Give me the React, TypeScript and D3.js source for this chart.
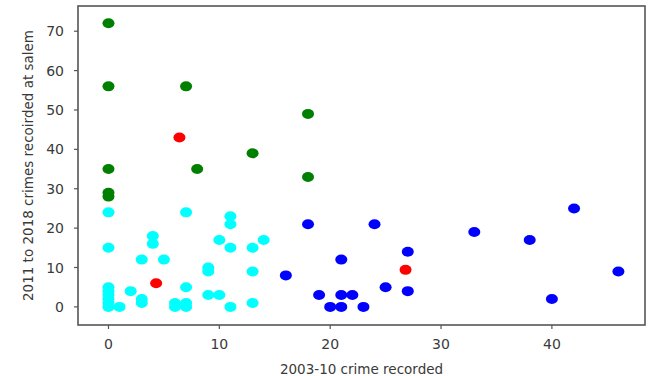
import * as d3 from 'd3';

// cluster 0 (green): high 2011-18 counts
const greenX = [0, 0, 7, 18, 13, 0, 8, 18, 0, 0];
const greenY = [72, 56, 56, 49, 39, 35, 35, 33, 29, 28];

// cluster 1 (cyan): low counts both periods
const cyanX = [0, 7, 0, 4, 4, 3, 5, 0, 0, 0, 0, 0, 0, 2, 3, 3, 1, 6, 6, 7, 7, 7, 11, 11, 10, 14, 11, 13, 9, 9, 13, 9, 10, 11, 13];
const cyanY = [24, 24, 15, 18, 16, 12, 12, 5, 4, 3, 2, 1, 0, 4, 2, 1, 0, 1, 0, 1, 0, 5, 23, 21, 17, 17, 15, 15, 10, 9, 9, 3, 3, 0, 1];

// cluster 2 (blue): high 2003-10 counts
const blueX = [18, 24, 27, 21, 16, 25, 27, 19, 21, 22, 20, 21, 23, 33, 38, 42, 46, 40];
const blueY = [21, 21, 14, 12, 8, 5, 4, 3, 3, 3, 0, 0, 0, 19, 17, 25, 9, 2];

// centroids
const centerX = [6.4, 4.3, 26.8];
const centerY = [43, 6, 9.4];

const xTicks = [0, 10, 20, 30, 40];
const yTicks = [0, 10, 20, 30, 40, 50, 60, 70];

const W = 654;
const H = 376;
const left = 78, right = 645, top = 6, bottom = 325;

const x = d3.scaleLinear().domain([-2.75, 48.4]).range([left, right]);
const y = d3.scaleLinear().domain([-4.6, 76.4]).range([bottom, top]);

const series = [
  { xs: greenX, ys: greenY, color: '#008000' },
  { xs: cyanX, ys: cyanY, color: '#00ffff' },
  { xs: blueX, ys: blueY, color: '#0000ff' },
  { xs: centerX, ys: centerY, color: '#ff0000' },
];

const font = '"DejaVu Sans", sans-serif';
const textColor = '#3a3a3a';

export default function App() {
  return (
    <div style={{ position: 'absolute', left: 0, top: 0 }}>
      <svg width={W} height={H} style={{ display: 'block', background: '#fff' }}>
        {series.map((s, si) => (
          <g key={si}>
            {s.xs.map((v, i) => (
              <ellipse key={i} cx={x(v)} cy={y(s.ys[i])} rx={6} ry={5} fill={s.color} />
            ))}
          </g>
        ))}
        <rect x={left} y={top} width={right - left} height={bottom - top}
          fill="none" stroke="#555" strokeWidth={1.6} />
        {xTicks.map(t => (
          <g key={'x' + t}>
            <line x1={x(t)} x2={x(t)} y1={bottom} y2={bottom + 4} stroke="#555" strokeWidth={1.2} />
            <text x={x(t)} y={349} textAnchor="middle" fontFamily={font} fontSize={14} fill={textColor}>{t}</text>
          </g>
        ))}
        {yTicks.map(t => (
          <g key={'y' + t}>
            <line x1={left - 4} x2={left} y1={y(t)} y2={y(t)} stroke="#555" strokeWidth={1.2} />
            <text x={64} y={y(t) + 5} textAnchor="end" fontFamily={font} fontSize={14} fill={textColor}>{t}</text>
          </g>
        ))}
        <text x={(left + right) / 2} y={374} textAnchor="middle" fontFamily={font} fontSize={13.5} fill={textColor}>
          2003-10 crime recorded
        </text>
        <text transform={`translate(33,${(top + bottom) / 2}) rotate(-90)`} textAnchor="middle"
          fontFamily={font} fontSize={13.5} fill={textColor}>
          2011 to 2018 crimes recoirded at salem
        </text>
      </svg>
    </div>
  );
}
